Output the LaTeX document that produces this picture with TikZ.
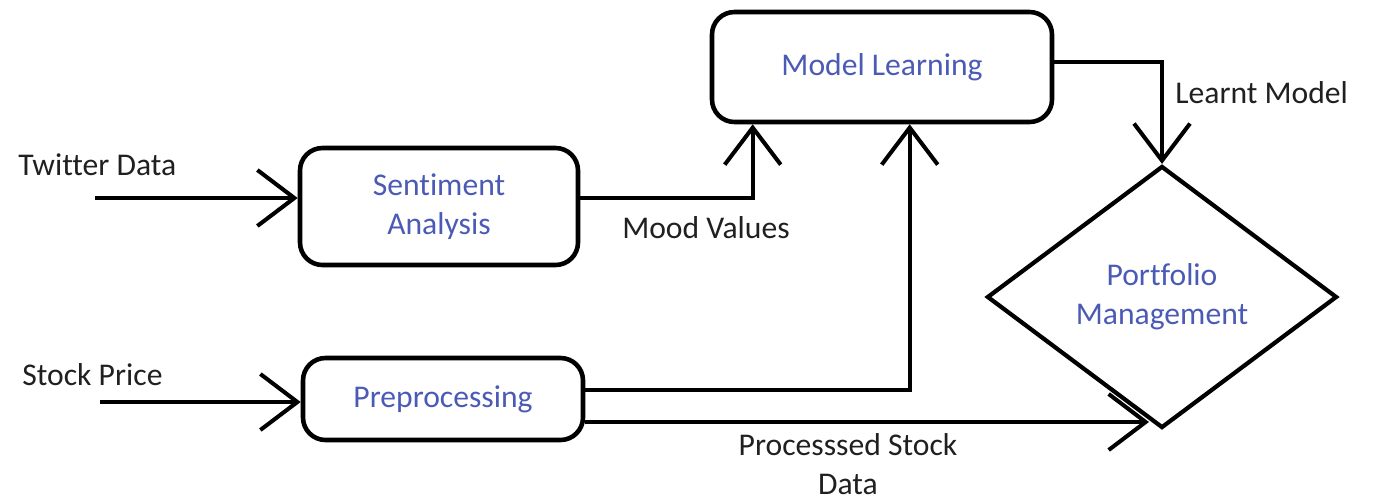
\documentclass[tikz,border=0pt]{standalone}
\usepackage{fontspec}
\setmainfont{Carlito}[Ligatures=NoCommon]
\usetikzlibrary{arrows.meta,positioning,shapes.geometric}
\definecolor{flowink}{HTML}{000000}
\definecolor{flowblue}{HTML}{4B5BB5}
\definecolor{flowtext}{HTML}{202020}
\tikzset{
  bx/.style={draw=flowink, line width=2.6pt, rounded corners=0.45cm, align=center, text=flowblue, inner sep=2pt},
  dmd/.style={diamond, draw=flowink, line width=2.4pt, align=center, text=flowblue, inner sep=0pt},
  arr/.style={-{Straight Barb[length=0.74cm, width=1.12cm]}, line width=2.3pt, color=flowink},
  lbl/.style={text=flowtext, align=center, inner sep=0pt},
}
\begin{document}
\begin{tikzpicture}[font=\fontsize{18pt}{22pt}\selectfont]
    \useasboundingbox (0,0) rectangle (27.48,10.06);
    \node[bx, minimum width=5.56cm, minimum height=2.34cm] (sent) at (8.78,5.93) {Sentiment\\Analysis};
    \node[bx, minimum width=5.6cm, minimum height=1.64cm] (pre) at (8.86,2.08) {Preprocessing};
    \node[bx, minimum width=6.8cm, minimum height=2.2cm] (model) at (17.64,8.72) {Model Learning};
    \node[dmd, minimum width=7.0cm, minimum height=5.24cm] (port) at (23.24,4.12) {Portfolio\\Management};
    \coordinate (tw) at (1.9,6.1);
    \coordinate (sp) at (2.0,2.02);
    \node[lbl, anchor=west] (twl) at (0.36,6.76) {Twitter Data};
    \node[lbl, anchor=west] (spl) at (0.44,2.56) {Stock Price};
    \node[lbl] (mood) at (14.12,5.5) {Mood Values};
    \node[lbl] (proc) at (16.96,0.78) {Processsed Stock\\Data};
    \node[lbl, anchor=west] (learnt) at (23.5,8.2) {Learnt Model};
    \draw[arr] (tw) -- (tw -| sent.west);
    \draw[arr] (sp) -- (sp -| pre.west);
    \draw[arr] ([yshift=0.17cm]sent.east) -| ([xshift=0.86cm]model.south west);
    \draw[arr] ([yshift=0.18cm]pre.east) -| ([xshift=4.0cm]model.south west);
    \draw[arr] ([yshift=0.1cm]model.east) -| (port.north);
    \draw[arr] ([yshift=-0.46cm]pre.east) -- ([yshift=-0.46cm, xshift=-0.26cm]pre.east -| port.south);
  \end{tikzpicture}
\end{document}
